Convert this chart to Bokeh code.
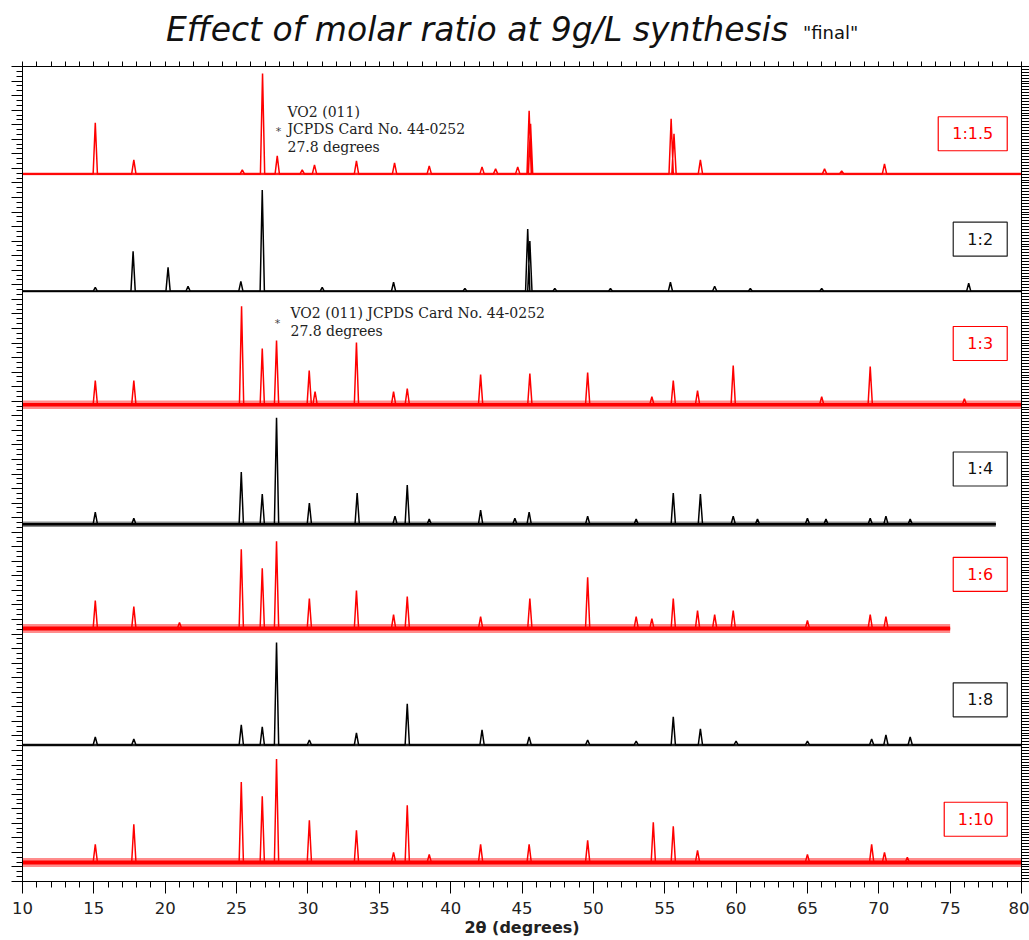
from bokeh.plotting import figure
from bokeh.models import Range1d, LinearAxis, FixedTicker, Div
from bokeh.layouts import column
from bokeh.core.properties import value
from bokeh.embed import file_html
from bokeh.resources import INLINE

# ---- sample labels, trace colours and scan limits ----
ratios = ["1:1.5", "1:2", "1:3", "1:4", "1:6", "1:8", "1:10"]
colors = ["#ff0000", "#000000", "#ff0000", "#000000", "#ff0000", "#000000", "#ff0000"]
scan_start = [10.0, 10.0, 10.0, 10.0, 10.0, 10.0, 10.0]
scan_end = [80.0, 80.0, 80.0, 78.2, 75.0, 80.0, 80.0]

# background level and noise amplitude of each pattern (counts, panel window = 116)
background = [9, 8, 11, 8, 20, 20, 19]
noise = [2.0, 1.8, 6.0, 4.0, 6.5, 2.2, 6.5]

# ---- reflections: 2-theta (deg) and intensity above background ----
pos_r1_5 = [15.1, 17.8, 25.4, 26.82, 27.85, 29.6, 30.46, 33.4, 36.07, 38.5, 42.2, 43.15, 44.7, 45.5, 45.6, 55.45, 55.65, 57.5, 66.2, 67.4, 70.4]
int_r1_5 = [51, 14, 4, 100, 18, 4, 9, 13, 11, 8, 7, 5, 7, 63, 50, 55, 40, 14, 5, 3, 10]

pos_r2 = [15.1, 17.75, 20.2, 21.6, 25.3, 26.8, 31.0, 36.0, 41.0, 45.4, 45.55, 47.3, 51.2, 55.4, 58.5, 61.0, 66.0, 76.3]
int_r2 = [4, 40, 24, 5, 10, 101, 4, 9, 3, 62, 50, 3, 3, 9, 5, 3, 3, 8]

pos_r3 = [15.1, 17.8, 25.35, 26.8, 27.8, 30.09, 30.5, 33.4, 36.0, 36.96, 42.1, 45.55, 49.6, 54.1, 55.6, 57.3, 59.8, 66.0, 69.4, 76.0]
int_r3 = [24, 24, 98, 56, 64, 34, 13, 62, 13, 16, 30, 31, 32, 8, 24, 14, 39, 8, 38, 6]

pos_r4 = [15.1, 17.8, 25.33, 26.8, 27.8, 30.1, 33.45, 36.1, 36.96, 38.5, 42.1, 44.5, 45.5, 49.6, 53.0, 55.6, 57.5, 59.8, 61.5, 65.0, 66.3, 69.4, 70.5, 72.2]
int_r4 = [12, 6, 52, 30, 106, 21, 31, 8, 39, 5, 14, 6, 12, 8, 5, 31, 30, 8, 5, 6, 5, 6, 8, 5]

pos_r6 = [15.1, 17.8, 21.0, 25.33, 26.8, 27.8, 30.1, 33.4, 36.0, 36.96, 42.1, 45.55, 49.6, 53.0, 54.1, 55.6, 57.3, 58.5, 59.8, 65.0, 69.4, 70.5]
int_r6 = [28, 22, 6, 79, 60, 87, 30, 38, 14, 32, 12, 30, 51, 12, 10, 30, 18, 14, 18, 8, 14, 12]

pos_r8 = [15.1, 17.8, 25.33, 26.8, 27.8, 30.1, 33.4, 36.96, 42.2, 45.5, 49.6, 53.0, 55.6, 57.5, 60.0, 65.0, 69.5, 70.5, 72.2]
int_r8 = [8, 6, 20, 18, 102, 5, 12, 41, 15, 8, 5, 4, 28, 16, 4, 4, 6, 10, 8]

pos_r10 = [15.1, 17.8, 25.33, 26.8, 27.8, 30.1, 33.4, 36.0, 36.96, 38.5, 42.1, 45.5, 49.6, 54.2, 55.6, 57.3, 65.0, 69.5, 70.4, 72.0]
int_r10 = [18, 38, 80, 66, 103, 42, 32, 10, 57, 8, 18, 18, 22, 40, 36, 12, 8, 18, 10, 5]

positions = [pos_r1_5, pos_r2, pos_r3, pos_r4, pos_r6, pos_r8, pos_r10]
intensities = [int_r1_5, int_r2, int_r3, int_r4, int_r6, int_r8, int_r10]

x_ticks = list(range(10, 81, 5))

# ---- layout constants ----
PANEL = 116.0
N = len(ratios)
HALF_WIDTH = 0.15          # half base width of a reflection, degrees
FRAME_W = 999              # plot frame size in pixels
FRAME_H = 815
FRAME_TOP = 66             # frame top, page pixels
HEADER_H = 60              # height of the title strip above the figure
PX_PER_DEG = FRAME_W / 70.0

p = figure(width=1029, height=940 - HEADER_H,
           x_range=Range1d(10, 80), y_range=Range1d(0, N * PANEL),
           output_backend="svg", toolbar_location=None,
           min_border_left=22, min_border_right=8,
           min_border_top=FRAME_TOP - HEADER_H, min_border_bottom=59)
p.background_fill_color = "white"
p.border_fill_color = "white"
p.outline_line_color = "black"
p.outline_line_width = 1
p.xgrid.visible = False
p.ygrid.visible = False

# bottom axis
xa = p.xaxis[0]
xa.ticker = FixedTicker(ticks=x_ticks, minor_ticks=list(range(10, 81)))
xa.major_tick_out = 12
xa.major_tick_in = 0
xa.minor_tick_out = 6
xa.minor_tick_in = 0
xa.major_label_text_font = "DejaVu Sans"
xa.major_label_text_font_size = "16.5px"
xa.major_label_text_color = "#222222"
xa.major_label_standoff = 8
xa.axis_label = "2θ (degrees)"
xa.axis_label_text_font = "DejaVu Sans"
xa.axis_label_text_font_style = "bold"
xa.axis_label_text_font_size = "16px"
xa.axis_label_text_color = "#222222"
xa.axis_label_standoff = 1
xa.axis_line_color = "black"


def silent_axis(axis, tick_out, minor_out):
    """Tick marks only: labels are given no colour, so they are never painted."""
    axis.major_tick_out = tick_out
    axis.major_tick_in = 0
    axis.minor_tick_out = minor_out
    axis.minor_tick_in = 0
    axis.major_label_text_font_size = "1px"
    axis.major_label_text_color = None
    axis.major_label_standoff = 0
    axis.axis_line_color = "black"


# left axis: unlabelled intensity ticks for every panel
major_y = [k * PANEL / 8 for k in range(N * 8 + 1)]
minor_y = [k * PANEL / 24 for k in range(N * 24 + 1)]
ya = p.yaxis[0]
ya.ticker = FixedTicker(ticks=major_y, minor_ticks=minor_y)
silent_axis(ya, 11, 6)

# right axis: fine intensity ticks
right_ticks = [k * PANEL / 40 for k in range(N * 40 + 1)]
ra = LinearAxis(ticker=FixedTicker(ticks=right_ticks, minor_ticks=[]))
silent_axis(ra, 8, 0)
p.add_layout(ra, "right")

# top axis: one tick per degree
ta = LinearAxis(ticker=FixedTicker(ticks=list(range(10, 81)), minor_ticks=[]))
silent_axis(ta, 5, 0)
p.add_layout(ta, "above")

# ---- traces, stacked from top (first ratio) to bottom ----
for i in range(N):
    offset = (N - 1 - i) * PANEL
    base = offset + background[i]
    x0, x1 = scan_start[i], scan_end[i]
    # noisy background: a soft outer band with a solid core
    p.line([x0, x1], [base, base], line_width=noise[i] * 1.4, color=colors[i],
           line_alpha=0.45, line_cap="butt")
    p.line([x0, x1], [base, base], line_width=max(1.5, noise[i] * 0.6), color=colors[i],
           line_cap="butt")
    # reflections as sharp spikes on the background
    xs, ys = [x0], [base]
    for x, h in sorted(zip(positions[i], intensities[i])):
        if x0 < x < x1:
            xs += [x - HALF_WIDTH, x, x + HALF_WIDTH]
            ys += [base, base + h, base]
    xs.append(x1)
    ys.append(base)
    p.line(xs, ys, line_width=1.5, color=colors[i])

# ---- boxed ratio labels at the right ----
box_w = [69, 54, 54, 54, 54, 54, 63]
box_y = [49, 60, 72, 63, 74, 65, 62]
BOX_RIGHT = 79.0
for i in range(N):
    offset = (N - 1 - i) * PANEL
    cx = BOX_RIGHT - (box_w[i] / 2) / PX_PER_DEG
    cy = offset + box_y[i]
    p.rect([cx], [cy], width=box_w[i], height=34, width_units="screen", height_units="screen",
           fill_color="white", line_color=colors[i] if colors[i] != "#000000" else "#222222",
           line_width=1.2)
    p.text([cx], [cy], text=[ratios[i]], text_align="center", text_baseline="middle",
           text_font=value("DejaVu Sans"), text_font_size="16px",
           text_color=colors[i] if colors[i] != "#000000" else "#111111")

# ---- VO2 (011) annotations ----
def y_of_px(py):
    return (FRAME_TOP + FRAME_H - py) * (N * PANEL) / FRAME_H

def x_of_px(px):
    return 10 + (px - 22) / PX_PER_DEG

note_font = value("DejaVu Serif")
for txt, px, py in [("VO2 (011)", 287, 111.5), ("JCPDS Card No. 44-0252", 287, 128.5),
                    ("27.8 degrees", 287, 146), ("VO2 (011) JCPDS Card No. 44-0252", 290, 312.5),
                    ("27.8 degrees", 290, 330.5)]:
    p.text([x_of_px(px)], [y_of_px(py)], text=[txt], text_align="left", text_baseline="middle",
           text_font=note_font, text_font_size="14px", text_color="#222222")
for px, py in [(278, 131), (277, 323)]:
    p.text([x_of_px(px)], [y_of_px(py)], text=["*"], text_align="center", text_baseline="middle",
           text_font=value("DejaVu Sans"), text_font_size="11px", text_color="#444444")

# ---- title strip ----
title_html = (
    '<div style="position:relative;width:1029px;height:60px;color:#111111;'
    'font-family:\'DejaVu Sans\';">'
    '<span style="position:absolute;left:166px;top:11px;font-size:33px;font-style:italic;'
    'line-height:37px;white-space:nowrap;">Effect of molar ratio at 9g/L synthesis</span>'
    '<span style="position:absolute;left:803px;top:22px;font-size:18px;line-height:22px;'
    'white-space:nowrap;">"final"</span>'
    '</div>'
)
header = Div(text=title_html, width=1029, height=HEADER_H, margin=0)

layout = column(header, p, spacing=0)
open("out.html", "w").write(file_html(layout, INLINE))
